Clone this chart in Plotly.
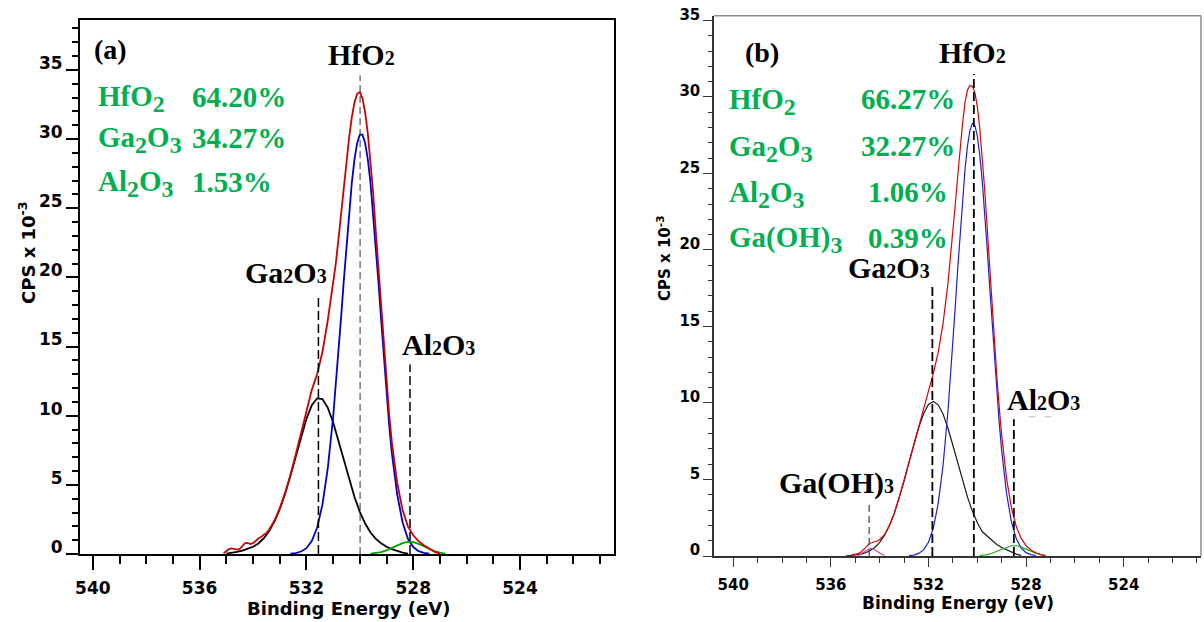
import plotly.graph_objects as go

W, H = 1204, 622
GREEN = "#00b050"
SERIF = "Liberation Serif"
SANS = "DejaVu Sans"

# ---------------- panel (a) ----------------
be_a_sum = [535.1, 535.0, 534.9, 534.8, 534.7, 534.6, 534.5, 534.4, 534.3, 534.2,
            534.1, 534.0, 533.9, 533.8, 533.7, 533.6, 533.5, 533.4, 533.2, 533.0,
            532.8, 532.6, 532.4, 532.2, 532.0, 531.8, 531.6, 531.4, 531.2, 531.0,
            530.9, 530.8, 530.7, 530.6, 530.5, 530.4, 530.3, 530.2, 530.1, 530.0,
            529.9, 529.8, 529.7, 529.6, 529.5, 529.4, 529.3, 529.2, 529.1, 529.0,
            528.9, 528.8, 528.6, 528.4, 528.2, 528.0, 527.8, 527.6, 527.4, 527.2, 527.0]
cps_a_sum = [0.05, 0.17, 0.35, 0.40, 0.38, 0.32, 0.36, 0.55, 0.78, 0.80,
             0.72, 0.78, 0.98, 1.12, 1.22, 1.40, 1.50, 1.75, 2.40, 3.28,
             4.40, 5.70, 7.20, 8.75, 10.30, 11.85, 13.00, 14.60, 16.90, 19.42,
             21.00, 22.77, 24.65, 26.55, 28.43, 30.12, 31.57, 32.65, 33.28, 33.40,
             32.93, 31.91, 30.39, 28.41, 26.10, 23.26, 20.62, 17.81, 15.04, 12.38,
             10.07, 8.08, 5.14, 3.19, 2.00, 1.35, 0.93, 0.63, 0.38, 0.15, 0.03]

be_a_hfo2 = [532.6, 532.4, 532.2, 532.0, 531.8, 531.6, 531.4, 531.2, 531.0,
             530.9, 530.8, 530.7, 530.6, 530.5, 530.4, 530.3, 530.2, 530.1, 530.0,
             529.9, 529.8, 529.7, 529.6, 529.5, 529.4, 529.3, 529.2, 529.1, 529.0,
             528.9, 528.8, 528.6, 528.4, 528.2, 528.0, 527.8, 527.6, 527.4]
cps_a_hfo2 = [0.02, 0.07, 0.18, 0.42, 0.93, 1.90, 3.57, 6.20, 9.89,
              12.12, 14.56, 17.14, 19.77, 22.35, 24.74, 26.83, 28.53, 29.71, 30.32,
              30.32, 29.71, 28.53, 26.83, 24.60, 22.10, 19.60, 16.90, 14.20, 11.60,
              9.30, 7.30, 4.30, 2.30, 1.10, 0.50, 0.20, 0.08, 0.02]

be_a_ga2o3 = [535.0, 534.8, 534.6, 534.4, 534.2, 534.0, 533.8, 533.6, 533.4, 533.2,
              533.0, 532.8, 532.6, 532.4, 532.2, 532.0, 531.8, 531.6, 531.4, 531.2,
              531.0, 530.8, 530.6, 530.4, 530.2, 530.0, 529.8, 529.6, 529.4, 529.2,
              529.0, 528.8, 528.6, 528.4, 528.2]
cps_a_ga2o3 = [0.03, 0.08, 0.15, 0.24, 0.36, 0.52, 0.76, 1.12, 1.65, 2.35,
               3.25, 4.36, 5.65, 7.07, 8.49, 9.77, 10.75, 11.25, 11.20, 10.58,
               9.53, 8.21, 6.78, 5.38, 4.12, 3.05, 2.20, 1.55, 1.09, 0.77,
               0.52, 0.35, 0.22, 0.10, 0.03]

be_a_al2o3 = [529.6, 529.4, 529.2, 529.0, 528.8, 528.6, 528.4, 528.2, 528.0, 527.8,
              527.6, 527.4, 527.2, 527.0, 526.8]
cps_a_al2o3 = [0.03, 0.07, 0.14, 0.26, 0.43, 0.62, 0.79, 0.87, 0.85, 0.73,
               0.55, 0.36, 0.21, 0.10, 0.03]

# peak markers of panel (a): Ga2O3, HfO2, Al2O3
peaks_a_be = [531.55, 529.99, 528.12]
peaks_a_top = [18.7, 34.6, 13.7]

species_a = [["HfO", "2"], ["Ga", "2", "O", "3"], ["Al", "2", "O", "3"]]
percent_a = ["64.20%", "34.27%", "1.53%"]

# ---------------- panel (b) ----------------
be_b_sum = [535.2, 535.0, 534.9, 534.8, 534.7, 534.6, 534.5, 534.4, 534.3, 534.2,
            534.1, 534.0, 533.9, 533.8, 533.6, 533.4, 533.2, 533.0, 532.8, 532.6,
            532.4, 532.2, 532.0, 531.8, 531.6, 531.4, 531.2, 531.1, 531.0, 530.9,
            530.8, 530.7, 530.6, 530.5, 530.4, 530.3, 530.2, 530.1, 530.0, 529.9,
            529.8, 529.7, 529.6, 529.5, 529.4, 529.3, 529.2, 529.1, 529.0, 528.8,
            528.6, 528.4, 528.2, 528.0, 527.8, 527.6, 527.4, 527.2]
cps_b_sum = [0.03, 0.10, 0.15, 0.22, 0.34, 0.51, 0.69, 0.83, 0.88, 0.92,
             0.98, 1.08, 1.21, 1.39, 2.00, 2.80, 3.80, 4.95, 6.12, 7.36,
             8.57, 9.70, 10.80, 11.93, 13.32, 15.22, 17.83, 19.41, 21.15, 22.99,
             24.85, 26.69, 28.30, 29.67, 30.45, 30.75, 30.70, 30.30, 29.40, 28.00,
             26.23, 24.05, 21.63, 19.09, 16.54, 14.09, 11.78, 9.72, 7.90, 5.08,
             3.15, 1.91, 1.15, 0.67, 0.39, 0.21, 0.09, 0.03]

be_b_hfo2 = [532.8, 532.6, 532.4, 532.2, 532.0, 531.8, 531.6, 531.4, 531.2, 531.1,
             531.0, 530.9, 530.8, 530.7, 530.6, 530.5, 530.4, 530.3, 530.2, 530.1,
             530.0, 529.9, 529.8, 529.7, 529.6, 529.5, 529.4, 529.3, 529.2, 529.1,
             529.0, 528.8, 528.6, 528.4, 528.2, 528.0, 527.8, 527.6]
cps_b_hfo2 = [0.02, 0.06, 0.17, 0.40, 0.90, 1.83, 3.44, 5.95, 9.48, 11.60,
              13.91, 16.33, 18.79, 21.19, 23.39, 25.29, 26.80, 27.81, 28.27, 28.16,
              27.47, 26.25, 24.58, 22.54, 20.24, 17.81, 15.36, 12.97, 10.73, 8.70,
              6.90, 4.09, 2.23, 1.12, 0.52, 0.22, 0.09, 0.03]

be_b_ga2o3 = [535.4, 535.2, 535.0, 534.8, 534.6, 534.4, 534.2, 534.0, 533.8, 533.6,
              533.4, 533.2, 533.0, 532.8, 532.6, 532.4, 532.2, 532.0, 531.8, 531.6,
              531.4, 531.2, 531.0, 530.8, 530.6, 530.4, 530.2, 530.0, 529.8, 529.6,
              529.4, 529.2, 529.0, 528.8, 528.6, 528.4, 528.2]
cps_b_ga2o3 = [0.00, 0.02, 0.05, 0.11, 0.20, 0.34, 0.56, 0.89, 1.36, 1.99,
               2.79, 3.77, 4.90, 6.10, 7.30, 8.40, 9.30, 9.90, 10.10, 9.88,
               9.27, 8.35, 7.24, 6.06, 4.91, 3.85, 2.94, 2.19, 1.60, 1.30,
               1.00, 0.75, 0.55, 0.40, 0.25, 0.12, 0.04]

be_b_al2o3 = [529.9, 529.6, 529.4, 529.2, 529.0, 528.8, 528.6, 528.4, 528.2, 528.0,
              527.8, 527.6, 527.4, 527.2]
cps_b_al2o3 = [0.03, 0.09, 0.18, 0.30, 0.45, 0.59, 0.67, 0.67, 0.59, 0.45,
               0.30, 0.18, 0.09, 0.03]

be_b_gaoh3 = [534.9, 534.8, 534.7, 534.6, 534.5, 534.4, 534.3, 534.2, 534.1, 534.0,
              533.9, 533.8]
cps_b_gaoh3 = [0.02, 0.11, 0.19, 0.31, 0.42, 0.49, 0.49, 0.42, 0.31, 0.19,
               0.11, 0.03]

# peak markers of panel (b): Ga(OH)3, Ga2O3, HfO2, Al2O3
peaks_b_be = [534.43, 531.84, 530.14, 528.50]
peaks_b_top = [3.44, 17.7, 31.5, 8.93]

species_b = [["HfO", "2"], ["Ga", "2", "O", "3"], ["Al", "2", "O", "3"], ["Ga(OH)", "3"]]
percent_b = ["66.27%", "32.27%", "1.06%", "0.39%"]

fig = go.Figure()


def curve(x, y, color, width, panel):
    assert len(x) == len(y)
    fig.add_trace(go.Scatter(
        x=x, y=y, mode="lines", line=dict(color=color, width=width),
        xaxis="x" if panel == 1 else "x2", yaxis="y" if panel == 1 else "y2",
        hoverinfo="skip", showlegend=False))


def peak_line(e, top, panel, color, width, dash):
    fig.add_trace(go.Scatter(
        x=[e, e], y=[0, top], mode="lines",
        line=dict(color=color, width=width, dash=dash),
        xaxis="x" if panel == 1 else "x2", yaxis="y" if panel == 1 else "y2",
        hoverinfo="skip", showlegend=False))


# panel (a) curves
curve(be_a_ga2o3, cps_a_ga2o3, "#000000", 1.8, 1)
curve(be_a_hfo2, cps_a_hfo2, "#0000c8", 1.8, 1)
curve(be_a_al2o3, cps_a_al2o3, "#00a000", 1.8, 1)
curve(be_a_sum, cps_a_sum, "#cc0000", 1.8, 1)

peak_line(peaks_a_be[0], peaks_a_top[0], 1, "#000000", 1.5, "9px,4px")
peak_line(peaks_a_be[1], peaks_a_top[1], 1, "#333333", 1.0, "7px,4px")
peak_line(peaks_a_be[2], peaks_a_top[2], 1, "#000000", 1.5, "9px,4px")

# panel (b) curves
curve(be_b_ga2o3, cps_b_ga2o3, "#1a1a1a", 1.2, 2)
curve(be_b_hfo2, cps_b_hfo2, "#2020d0", 1.2, 2)
curve(be_b_al2o3, cps_b_al2o3, "#10b010", 1.2, 2)
curve(be_b_gaoh3, cps_b_gaoh3, "#c040c0", 1.2, 2)
curve(be_b_sum, cps_b_sum, "#e00000", 1.2, 2)

peak_line(peaks_b_be[0], peaks_b_top[0], 2, "#444444", 1.2, "7px,4px")
peak_line(peaks_b_be[1], peaks_b_top[1], 2, "#000000", 1.8, "9px,4px")
peak_line(peaks_b_be[2], peaks_b_top[2], 2, "#000000", 1.8, "9px,4px")
peak_line(peaks_b_be[3], peaks_b_top[3], 2, "#000000", 1.8, "9px,4px")
# faint dashed stub beside the Al2O3 marker
fig.add_trace(go.Scatter(x=[527.9, 526.9], y=[9.1, 9.1], mode="lines",
                         line=dict(color="#b8b8b8", width=1, dash="7px,9px"),
                         xaxis="x2", yaxis="y2", hoverinfo="skip", showlegend=False))


def label(text, x, y, size, color="black", family=SERIF, xanchor="center", angle=0):
    fig.add_annotation(text=text, x=x / W, y=1 - y / H, xref="paper", yref="paper",
                       showarrow=False, xanchor=xanchor, yanchor="middle",
                       textangle=angle, font=dict(family=family, size=size, color=color))


def small(d, size):
    return "<span style='font-size:%dpx'>%s</span>" % (size, d)


def formula(parts, sub_size):
    # alternate element symbols and lowered stoichiometric digits
    out = ""
    for i, p in enumerate(parts):
        out += p if i % 2 == 0 else "<sub>" + small(p, sub_size) + "</sub>"
    return "<b>" + out + "</b>"


# panel (a) text
label("<b>(a)</b>", 111, 50, 28)
label("<b>HfO" + small("2", 20) + "</b>", 361, 54, 30)
label("<b>Ga" + small("2", 20) + "O" + small("3", 20) + "</b>", 286, 272, 30)
label("<b>Al" + small("2", 20) + "O" + small("3", 20) + "</b>", 439, 344, 30)
rows_a = [99, 140, 184]
for parts, pct, yy in zip(species_a, percent_a, rows_a):
    label(formula(parts, 24), 96, yy, 29, GREEN, xanchor="left")
    label("<b>" + pct + "</b>", 190, yy - 2, 29, GREEN, xanchor="left")

# panel (b) text
label("<b>(b)</b>", 762, 52, 28)
label("<b>HfO" + small("2", 20) + "</b>", 972, 52, 30)
label("<b>Ga" + small("2", 20) + "O" + small("3", 20) + "</b>", 889, 267, 30)
label("<b>Ga(OH)" + small("3", 20) + "</b>", 836, 483, 30)
label("<b>Al" + small("2", 20) + "O" + small("3", 20) + "</b>", 1043, 399, 30)
rows_b = [101, 148, 194, 240]
for parts, pct, yy in zip(species_b, percent_b, rows_b):
    label(formula(parts, 24), 727, yy, 29, GREEN, xanchor="left")
    label("<b>" + pct + "</b>", 908, yy - 2, 29, GREEN)

# axis titles
label("<b>Binding Energy (eV)</b>", 348, 608, 18, family=SANS)
label("<b>Binding Energy (eV)</b>", 958, 603, 17, family=SANS)
label("<b>CPS x 10<sup>-3</sup></b>", 27, 253, 18, family=SANS, angle=-90)
label("<b>CPS x 10<sup>-3</sup></b>", 664, 258, 15, family=SANS, angle=-90)

tick_a = dict(family=SANS, size=17, color="black", weight="bold")
tick_b = dict(family=SANS, size=15, color="black", weight="bold")

fig.update_layout(
    width=W, height=H, autosize=False, margin=dict(l=0, r=0, t=0, b=0, pad=0),
    paper_bgcolor="white", plot_bgcolor="white", showlegend=False,
    xaxis=dict(domain=[80 / W, 614 / W], range=[540.48, 520.48], anchor="y",
               showgrid=False, zeroline=False, showline=True, mirror=True,
               linecolor="black", linewidth=2, automargin=False,
               ticks="outside", tick0=540, dtick=4, ticklen=14, tickwidth=1.5,
               tickcolor="black", tickfont=tick_a, ticklabelstandoff=4,
               minor=dict(ticks="outside", tick0=540, dtick=1, ticklen=8,
                          tickwidth=1.5, tickcolor="black", showgrid=False)),
    yaxis=dict(domain=[1 - 554 / H, 1 - 20 / H], range=[0, 38.61], anchor="x",
               showgrid=False, zeroline=False, showline=True, mirror=True,
               linecolor="black", linewidth=2, automargin=False,
               ticks="outside", tick0=0, dtick=5, ticklen=12, tickwidth=1.5,
               tickcolor="black", tickfont=tick_a, ticklabelshift=-7,
               minor=dict(ticks="outside", tick0=0, dtick=1, ticklen=6,
                          tickwidth=1.5, tickcolor="black", showgrid=False)),
    xaxis2=dict(domain=[714 / W, 1201 / W], range=[540.79, 520.83], anchor="y2",
                showgrid=False, zeroline=False, showline=True,
                linecolor="#333333", linewidth=1.5, automargin=False,
                ticks="outside", tick0=540, dtick=4, ticklen=9, tickwidth=1.2,
                tickcolor="#333333", tickfont=tick_b, ticklabelstandoff=5,
                minor=dict(ticks="outside", tick0=540, dtick=1, ticklen=5,
                           tickwidth=1.2, tickcolor="#333333", showgrid=False)),
    yaxis2=dict(domain=[1 - 556 / H, 1 - 15.7 / H], range=[0, 35.31], anchor="x2",
                showgrid=False, zeroline=False, showline=True,
                linecolor="#333333", linewidth=1.5, automargin=False,
                ticks="outside", tick0=0, dtick=5, ticklen=9, tickwidth=1.2,
                tickcolor="#333333", tickfont=tick_b, ticklabelshift=-6,
                minor=dict(ticks="outside", tick0=0, dtick=1, ticklen=4,
                           tickwidth=1.2, tickcolor="#333333", showgrid=False)),
)

# top and right frame of panel (b)
fig.add_shape(type="line", xref="x2 domain", yref="y2 domain", x0=0, x1=1, y0=1, y1=1,
              line=dict(color="#8c8c8c", width=1.5))
fig.add_shape(type="line", xref="x2 domain", yref="y2 domain", x0=1, x1=1, y0=0, y1=1,
              line=dict(color="#8c8c8c", width=1.5))

fig.write_html("out.html", config={"responsive": False})
